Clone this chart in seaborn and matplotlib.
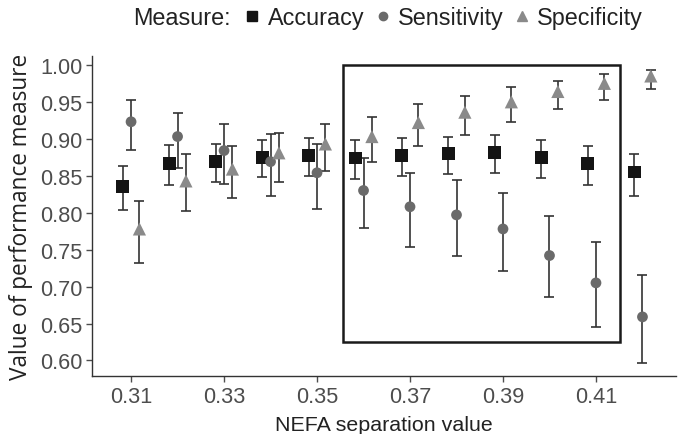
import numpy as np
import pandas as pd
import matplotlib
matplotlib.use("Agg")
import matplotlib.pyplot as plt
import seaborn as sns
from matplotlib.patches import Rectangle
from matplotlib.lines import Line2D

sep_values = [0.31, 0.32, 0.33, 0.34, 0.35, 0.36, 0.37, 0.38, 0.39, 0.40, 0.41, 0.42]

acc_mean = [0.835, 0.867, 0.869, 0.875, 0.877, 0.874, 0.877, 0.880, 0.881, 0.875, 0.866, 0.855]
acc_low  = [0.804, 0.838, 0.841, 0.848, 0.849, 0.846, 0.849, 0.852, 0.854, 0.847, 0.837, 0.823]
acc_high = [0.863, 0.892, 0.893, 0.899, 0.901, 0.898, 0.901, 0.902, 0.905, 0.899, 0.890, 0.880]

sen_mean = [0.923, 0.903, 0.884, 0.869, 0.854, 0.830, 0.808, 0.797, 0.778, 0.742, 0.705, 0.659]
sen_low  = [0.885, 0.861, 0.839, 0.822, 0.805, 0.779, 0.754, 0.742, 0.721, 0.686, 0.645, 0.597]
sen_high = [0.952, 0.935, 0.920, 0.906, 0.893, 0.874, 0.854, 0.844, 0.826, 0.795, 0.760, 0.715]

spe_mean = [0.778, 0.843, 0.859, 0.881, 0.893, 0.903, 0.922, 0.936, 0.950, 0.964, 0.975, 0.985]
spe_low  = [0.732, 0.802, 0.820, 0.841, 0.857, 0.868, 0.890, 0.905, 0.923, 0.940, 0.952, 0.967]
spe_high = [0.816, 0.879, 0.890, 0.908, 0.920, 0.929, 0.947, 0.958, 0.970, 0.978, 0.987, 0.993]

measures = ["Accuracy", "Sensitivity", "Specificity"]
x_ticks = [0.31, 0.33, 0.35, 0.37, 0.39, 0.41]
y_ticks = [0.60, 0.65, 0.70, 0.75, 0.80, 0.85, 0.90, 0.95, 1.00]

rows = []
for m, mean, lo, hi in zip(measures, [acc_mean, sen_mean, spe_mean],
                           [acc_low, sen_low, spe_low], [acc_high, sen_high, spe_high]):
    for x, v, l, h in zip(sep_values, mean, lo, hi):
        rows.append(dict(sep=x, measure=m, value=v, low=l, high=h))
df = pd.DataFrame(rows)

dodge = {"Accuracy": -0.0018, "Sensitivity": 0.0, "Specificity": 0.0018}
df["xpos"] = df["sep"] + df["measure"].map(dodge)

sns.set_theme(style="ticks")
plt.rcParams["font.family"] = ["Liberation Sans", "DejaVu Sans"]

fig = plt.figure(figsize=(6.79, 4.35), dpi=100)
ax = fig.add_axes([0.1355, 0.1333, 0.86, 0.7357])

colors = {"Accuracy": "#141414", "Sensitivity": "#6a6a6a", "Specificity": "#8a8a8a"}
markers = {"Accuracy": "s", "Sensitivity": "o", "Specificity": "^"}
sizes = {"Accuracy": 85, "Sensitivity": 60, "Specificity": 90}

for m in measures:
    d = df[df["measure"] == m]
    ax.errorbar(d["xpos"], d["value"], yerr=[d["value"] - d["low"], d["high"] - d["value"]],
                fmt="none", ecolor="#333333", elinewidth=1.2, capsize=3.5, capthick=1.2, zorder=2)

for m in measures:
    d = df[df["measure"] == m]
    sns.scatterplot(data=d, x="xpos", y="value", marker=markers[m], color=colors[m],
                    s=sizes[m], edgecolor="none", ax=ax, zorder=3, legend=False)

ax.add_patch(Rectangle((0.3555, 0.625), 0.4152 - 0.3555, 1.0 - 0.625, fill=False,
                       edgecolor="#1a1a1a", linewidth=1.8, zorder=4))

ax.set_xlim(0.3016, 0.4272)
ax.set_ylim(0.579, 1.012)
ax.set_xticks(x_ticks)
ax.set_xticklabels([f"{v:.2f}" for v in x_ticks])
ax.set_yticks(y_ticks)
ax.set_yticklabels([f"{v:.2f}" for v in y_ticks])
ax.tick_params(axis="both", labelsize=15.7, colors="#4d4d4d", labelcolor="#4d4d4d",
               length=4, width=1, pad=3)
for s in ["top", "right"]:
    ax.spines[s].set_visible(False)
for s in ["left", "bottom"]:
    ax.spines[s].set_color("#333333")
    ax.spines[s].set_linewidth(1.0)
ax.set_xlabel("NEFA separation value", fontsize=15.4, color="#222222", labelpad=6)
ax.set_ylabel("Value of performance measure", fontsize=16.3, color="#222222", labelpad=5,
              family=["Open Sans", "DejaVu Sans"])

handles = [Line2D([], [], linestyle="none", marker=markers[m], color=colors[m],
                  markersize={"Accuracy": 7, "Sensitivity": 6, "Specificity": 7.5}[m])
           for m in measures]
fig.text(133 / 679, 0.958, "Measure:", fontsize=16.8, color="#222222", ha="left", va="center")
fig.legend(handles, measures, loc="center left", bbox_to_anchor=(243 / 679, 0.958), ncol=3,
           frameon=False, fontsize=16.8, handlelength=0.8, handletextpad=0.26,
           columnspacing=0.38, borderaxespad=0, borderpad=0, labelcolor="#222222")

fig.savefig("out.png", dpi=100)
